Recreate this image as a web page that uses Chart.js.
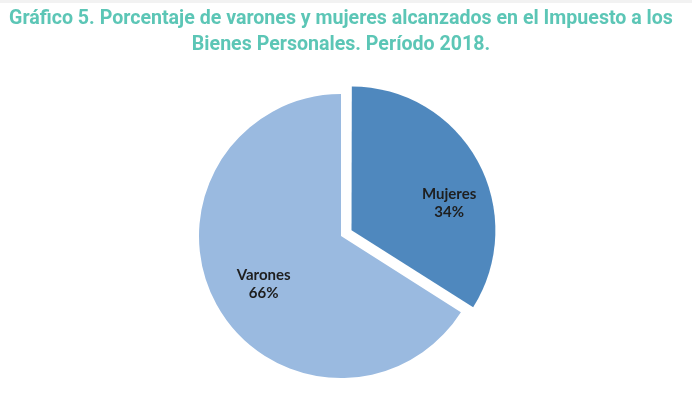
<!DOCTYPE html>
<html>
<head>
<meta charset="utf-8">
<script src="https://cdn.jsdelivr.net/npm/chart.js@4"></script>
<style>
  html, body { margin: 0; padding: 0; background: #fff; }
  #strip { height: 3px; background: #f2f2f2; }
  #wrap { width: 692px; height: 393px; position: relative; }
</style>
</head>
<body>
<div id="strip"></div>
<div id="wrap"><canvas id="chart"></canvas></div>
<script>
const titleLines = [
    "Gráfico 5. Porcentaje de varones y mujeres alcanzados en el Impuesto a los",
    "Bienes Personales. Período 2018."
];
const categories = ["Mujeres", "Varones"];
const percentages = [34, 66];
const sliceColors = ["#4F88BE", "#9ABAE0"];

// label placement inside each slice (Excel "best fit" look)
const labelAngleShift = [0.24, -0.05];
const labelRadiusFrac = [0.70, 0.64];

// Chart.js v4 arcs move by offset/4 * (1 + fix), same as ArcElement.draw
function arcShift(arc) {
    const circ = arc.endAngle - arc.startAngle;
    const o = (arc.options.offset || 0) / 4;
    const fix = 1 - Math.sin(Math.min(Math.PI, circ || 0));
    return o + o * fix;
}

const sliceLabels = {
    id: "sliceLabels",
    afterDatasetsDraw(chart) {
        const ctx = chart.ctx;
        const meta = chart.getDatasetMeta(0);
        ctx.save();
        ctx.font = "bold 15px Lato, 'Open Sans', sans-serif";
        ctx.fillStyle = "#1e1e1e";
        ctx.textAlign = "center";
        ctx.textBaseline = "middle";
        meta.data.forEach(function(arc, i) {
            const half = (arc.startAngle + arc.endAngle) / 2;
            const s = arcShift(arc);
            const cx = arc.x + Math.cos(half) * s;
            const cy = arc.y + Math.sin(half) * s;
            const mid = half + labelAngleShift[i];
            const r = arc.outerRadius * labelRadiusFrac[i];
            const x = cx + Math.cos(mid) * r;
            const y = cy + Math.sin(mid) * r;
            ctx.fillText(categories[i], x, y - 9);
            ctx.fillText(percentages[i] + "%", x, y + 9);
        });
        ctx.restore();
    }
};

new Chart(document.getElementById("chart"), {
    type: "pie",
    data: {
        labels: categories,
        datasets: [{
            data: percentages,
            backgroundColor: sliceColors,
            borderWidth: 0,
            offset: [48, 0],
            hoverOffset: 0,
            radius: 142
        }]
    },
    options: {
        responsive: true,
        maintainAspectRatio: false,
        animation: false,
        layout: { padding: { left: 0, right: 10, top: 0, bottom: 0 } },
        plugins: {
            legend: { display: false },
            tooltip: { enabled: false },
            title: {
                display: true,
                text: titleLines,
                color: "#5CC6B6",
                font: { family: "Roboto, sans-serif", size: 19.6, weight: "bold", lineHeight: 1.28 },
                padding: { top: 4, bottom: 19 }
            }
        }
    },
    plugins: [sliceLabels]
});
</script>
</body>
</html>
